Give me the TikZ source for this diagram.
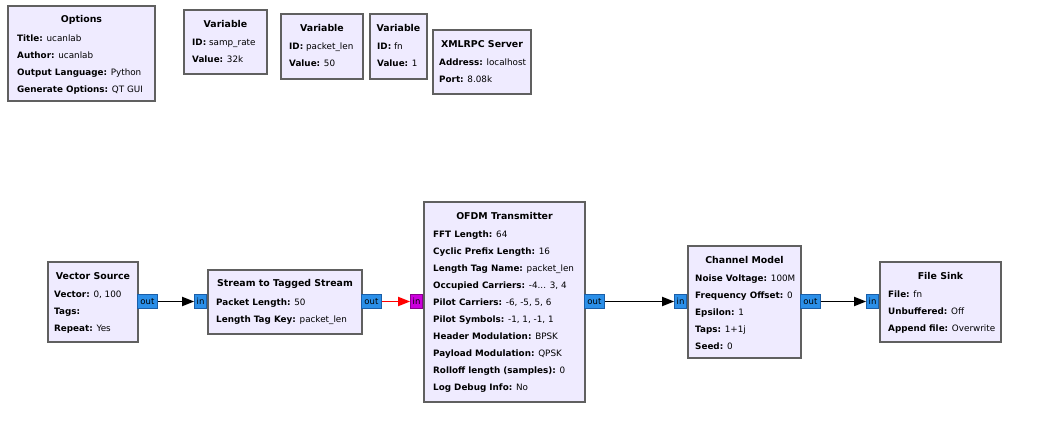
\documentclass[tikz,border=0pt]{standalone}
\usepackage{fontspec}
\setmainfont{DejaVu Sans}
\usetikzlibrary{arrows.meta,positioning}

\definecolor{blkfill}{HTML}{EFEBFF}
\definecolor{blkline}{HTML}{606060}
\definecolor{portblue}{HTML}{2B8FE8}
\definecolor{portedge}{HTML}{1A5EA8}
\definecolor{portpink}{HTML}{CC00DD}
\definecolor{pinkedge}{HTML}{8A008F}

\tikzset{
  blk/.style={draw=blkline, fill=blkfill, line width=2pt, rectangle, anchor=north west, inner sep=0pt},
  ttl/.style={font=\fontsize{9.4}{10}\selectfont\bfseries, inner sep=0pt},
  prm/.style={font=\fontsize{8.8}{17}\selectfont, align=left, anchor=north west, inner sep=0pt},
  port/.style={draw=portedge, fill=portblue, line width=0.8pt, inner sep=0pt, minimum height=14pt, font=\fontsize{8.5}{8.5}\selectfont},
  outp/.style={port, minimum width=20pt, anchor=west},
  inp/.style={port, minimum width=12pt, anchor=east},
  wire/.style={line width=1.8pt, -{Triangle[length=12pt,width=9pt]}},
}

\begin{document}
\begin{tikzpicture}[x=1pt, y=-1pt]
  \useasboundingbox (0,0) rectangle (1050,436);

  % top row: options and variables
  \node[blk, minimum width=147pt, minimum height=95pt] (opts) at (7,5) {};
  \node[ttl] at ([yshift=-15pt]opts.north) {Options};
  \node[prm] at ([xshift=10pt, yshift=-29.5pt]opts.north west)
    {\textbf{Title:} ucanlab\\ \textbf{Author:} ucanlab\\ \textbf{Output Language:} Python\\ \textbf{Generate Options:} QT GUI};

  \node[blk, minimum width=83pt, minimum height=64pt] (vrate) at (183,9) {};
  \node[ttl] at ([yshift=-15pt]vrate.north) {Variable};
  \node[prm] at ([xshift=9pt, yshift=-29.5pt]vrate.north west)
    {\textbf{ID:} samp\_rate\\ \textbf{Value:} 32k};

  \node[blk, minimum width=82pt, minimum height=65pt] (vlen) at (280,13) {};
  \node[ttl] at ([yshift=-15pt]vlen.north) {Variable};
  \node[prm] at ([xshift=9pt, yshift=-29.5pt]vlen.north west)
    {\textbf{ID:} packet\_len\\ \textbf{Value:} 50};

  \node[blk, minimum width=57pt, minimum height=65pt] (vfn) at (369,13) {};
  \node[ttl] at ([yshift=-15pt]vfn.north) {Variable};
  \node[prm] at ([xshift=8pt, yshift=-29.5pt]vfn.north west)
    {\textbf{ID:} fn\\ \textbf{Value:} 1};

  \node[blk, minimum width=98pt, minimum height=64pt] (xmlrpc) at (432,29) {};
  \node[ttl] at ([yshift=-15pt]xmlrpc.north) {XMLRPC Server};
  \node[prm] at ([xshift=7pt, yshift=-29.5pt]xmlrpc.north west)
    {\textbf{Address:} localhost\\ \textbf{Port:} 8.08k};

  % flow graph
  \node[blk, minimum width=90pt, minimum height=80pt] (vsrc) at (47,261) {};
  \node[ttl] at ([yshift=-15pt]vsrc.north) {Vector Source};
  \node[prm] at ([xshift=7pt, yshift=-29.5pt]vsrc.north west)
    {\textbf{Vector:} 0, 100\\ \textbf{Tags:}\\ \textbf{Repeat:} Yes};

  \node[blk, minimum width=154pt, minimum height=64pt] (s2ts) at (207,269) {};
  \node[ttl] at ([yshift=-15pt]s2ts.north) {Stream to Tagged Stream};
  \node[prm] at ([xshift=9pt, yshift=-29.5pt]s2ts.north west)
    {\textbf{Packet Length:} 50\\ \textbf{Length Tag Key:} packet\_len};

  \node[blk, minimum width=161pt, minimum height=200pt] (ofdm) at (423,201) {};
  \node[ttl] at ([yshift=-15pt]ofdm.north) {OFDM Transmitter};
  \node[prm] at ([xshift=10pt, yshift=-29.5pt]ofdm.north west)
    {\textbf{FFT Length:} 64\\ \textbf{Cyclic Prefix Length:} 16\\ \textbf{Length Tag Name:} packet\_len\\
     \textbf{Occupied Carriers:} -4... 3, 4\\ \textbf{Pilot Carriers:} -6, -5, 5, 6\\ \textbf{Pilot Symbols:} -1, 1, -1, 1\\
     \textbf{Header Modulation:} BPSK\\ \textbf{Payload Modulation:} QPSK\\ \textbf{Rolloff length (samples):} 0\\
     \textbf{Log Debug Info:} No};

  \node[blk, minimum width=113pt, minimum height=112pt] (chan) at (687,245) {};
  \node[ttl] at ([yshift=-15pt]chan.north) {Channel Model};
  \node[prm] at ([xshift=8pt, yshift=-29.5pt]chan.north west)
    {\textbf{Noise Voltage:} 100M\\ \textbf{Frequency Offset:} 0\\ \textbf{Epsilon:} 1\\ \textbf{Taps:} 1+1j\\ \textbf{Seed:} 0};

  \node[blk, minimum width=121pt, minimum height=80pt] (fsink) at (879,261) {};
  \node[ttl] at ([yshift=-15pt]fsink.north) {File Sink};
  \node[prm] at ([xshift=9pt, yshift=-29.5pt]fsink.north west)
    {\textbf{File:} fn\\ \textbf{Unbuffered:} Off\\ \textbf{Append file:} Overwrite};

  % ports
  \node[outp] (vsrcout) at (137,301.5) {out};
  \node[inp] (s2tsin) at (207,301.5) {in};
  \node[outp] (s2tsout) at (361,301.5) {out};
  \node[inp, fill=portpink, draw=pinkedge] (ofdmin) at (423,301.5) {in};
  \node[outp] (ofdmout) at (584,301.5) {out};
  \node[inp] (chanin) at (687,301.5) {in};
  \node[outp] (chanout) at (800,301.5) {out};
  \node[inp] (fsinkin) at (879,301.5) {in};

  % connections
  \draw[wire] (vsrcout) -- (s2tsin);
  \draw[wire, red] (s2tsout) -- (ofdmin);
  \draw[wire] (ofdmout) -- (chanin);
  \draw[wire] (chanout) -- (fsinkin);
\end{tikzpicture}
\end{document}
